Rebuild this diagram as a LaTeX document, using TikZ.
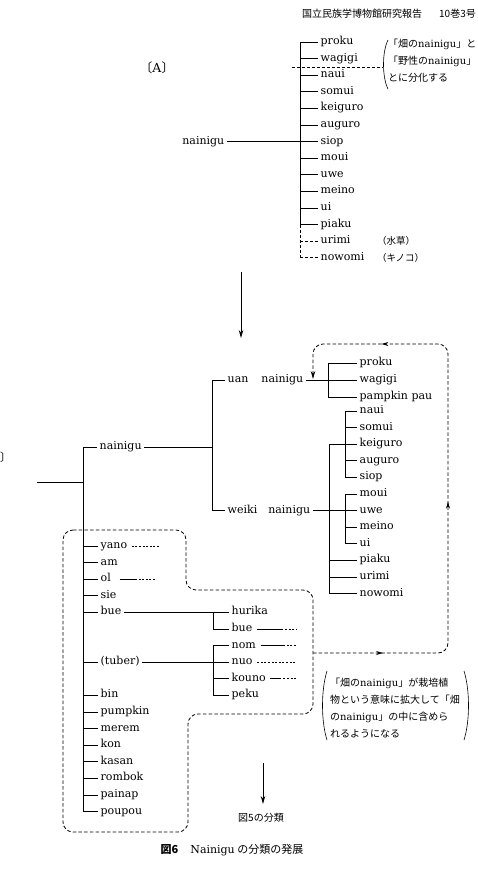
\documentclass[tikz,border=0pt]{standalone}
\usepackage{fontspec}
\setmainfont{DejaVu Serif}
\newfontfamily\jpf{Noto Sans CJK JP}
\usetikzlibrary{decorations.markings, arrows.meta}

\newcommand\trsz{\fontsize{11}{13}\selectfont}
\newcommand\romw[1]{{\rmfamily #1}}

\begin{document}
\begin{tikzpicture}[
      x=1pt, y=-1pt,
      every node/.style={font=\trsz, inner sep=0pt},
      leaf/.style={anchor=west, inner xsep=2.5pt, text height=7pt, text depth=2pt},
      word/.style={inner xsep=2.5pt, text height=7pt, text depth=2pt},
      jpten/.style={font=\jpf\fontsize{10}{12}\selectfont},
      jpnote/.style={font=\jpf\fontsize{10}{17}\selectfont, align=left},
      jpbox/.style={font=\jpf\fontsize{10}{17.3}\selectfont, align=left},
      branch/.style={line width=0.9pt},
      dashline/.style={line width=0.7pt, dash pattern=on 3pt off 2pt},
      dotline/.style={line width=0.8pt, dash pattern=on 2pt off 1.6pt},
      dashbox/.style={line width=0.8pt, dash pattern=on 3.5pt off 2.2pt, rounded corners=10pt},
      arrow/.style={-{Stealth[length=8pt, width=4.5pt]}, line width=0.8pt},
    ]
    \useasboundingbox (0,0) rectangle (477,876);

    % Running header
    \node[jpten, anchor=west] (hdr) at (302,14) {国立民族学博物館研究報告};
    \node[jpten, anchor=east] (vol) at (476,14) {10巻3号};

    % (A) first classification
    \node[font=\jpf\fontsize{12.5}{14}\selectfont] (labA) at (157,68) {〔\romw{A}〕};
    \node[word, anchor=east] (nainA) at (227,141.6) {nainigu};
    \coordinate (spineA) at (300,0);
    \node[leaf] (prokuA)   at (318,42.0)  {proku};
    \node[leaf] (wagigiA)  at (318,58.6)  {wagigi};
    \node[leaf] (nauiA)    at (318,75.2)  {naui};
    \node[leaf] (somuiA)   at (318,91.8)  {somui};
    \node[leaf] (keiguroA) at (318,108.4) {keiguro};
    \node[leaf] (auguroA)  at (318,125.0) {auguro};
    \node[leaf] (siopA)    at (318,141.6) {siop};
    \node[leaf] (mouiA)    at (318,158.2) {moui};
    \node[leaf] (uweA)     at (318,174.8) {uwe};
    \node[leaf] (meinoA)   at (318,191.4) {meino};
    \node[leaf] (uiA)      at (318,208.0) {ui};
    \node[leaf] (piakuA)   at (318,224.6) {piaku};
    \node[leaf] (urimiA)   at (318,241.2) {urimi};
    \node[leaf] (nowomiA)  at (318,257.8) {nowomi};
    \node[font=\jpf\fontsize{9.5}{10}\selectfont, anchor=west] (mizuA) at (377,241.2) {（水草）};
    \node[font=\jpf\fontsize{9.5}{10}\selectfont, anchor=west] (kinoA) at (377,257.8) {（キノコ）};

    \draw[branch] (nainA.east) -- (spineA |- nainA.east);
    \draw[branch] (spineA |- prokuA.west) -- (spineA |- piakuA.west);
    \foreach \n in {prokuA,wagigiA,nauiA,somuiA,keiguroA,auguroA,siopA,mouiA,uweA,meinoA,uiA,piakuA}
      \draw[branch] (spineA |- \n.west) -- (\n.west);
    \draw[dashline] (spineA |- piakuA.west) -- (spineA |- nowomiA.west);
    \draw[dashline] (spineA |- urimiA.west) -- (urimiA.west);
    \draw[dashline] (spineA |- nowomiA.west) -- (nowomiA.west);

    % split line and its note
    \coordinate (sepL) at (292,67.5);
    \coordinate (sepR) at (383,67.5);
    \draw[dashline] (sepL) -- (sepR);
    \draw[line width=0.6pt] (388,40) .. controls (382,52) and (382,77) .. (388,89);
    \node[jpnote, anchor=west] (noteA) at (388,61)
      {「畑の\romw{nainigu}」と\\「野性の\romw{nainigu}」\\とに分化する};

    % A -> B
    \coordinate (arrA) at (241,272);
    \coordinate (arrB) at (241,338);
    \draw[arrow] (arrA) -- (arrB);

    % (B) developed classification
    \node[font=\jpf\fontsize{11}{13}\selectfont, anchor=west] (labB) at (0,457) {〕};
    \coordinate (rootB)  at (37,482);
    \coordinate (spineB) at (83,0);
    \coordinate (spineC) at (212,0);
    \node[leaf] (nainB)  at (97,447)    {nainigu};
    \node[leaf] (uanN)   at (225,380)   {uan\hspace{13pt}nainigu};
    \node[leaf] (weikiN) at (225,510.6) {weiki\hspace{11pt}nainigu};

    \draw[branch] (rootB) -- (spineB |- rootB);
    \draw[branch] (spineB |- nainB.west) -- (nainB.west);
    \draw[branch] (nainB.east) -- (spineC |- nainB.east);
    \draw[branch] (spineC |- uanN.west) -- (spineC |- weikiN.west);
    \draw[branch] (spineC |- uanN.west) -- (uanN.west);
    \draw[branch] (spineC |- weikiN.west) -- (weikiN.west);

    % uan nainigu
    \coordinate (spineU) at (328,0);
    \node[leaf] (prokuB)   at (357,363) {proku};
    \node[leaf] (wagigiB)  at (357,380) {wagigi};
    \node[leaf] (pampkinB) at (357,397) {pampkin pau};
    \draw[branch] (uanN.east) -- (wagigiB.west);
    \draw[branch] (spineU |- prokuB.west) -- (spineU |- pampkinB.west);
    \draw[branch] (spineU |- prokuB.west) -- (prokuB.west);
    \draw[branch] (spineU |- pampkinB.west) -- (pampkinB.west);

    % weiki nainigu
    \coordinate (spineW) at (329,0);
    \coordinate (spineS) at (345,0);
    \node[leaf] (nauiB)    at (357,411.0) {naui};
    \node[leaf] (somuiB)   at (357,427.6) {somui};
    \node[leaf] (keiguroB) at (357,444.2) {keiguro};
    \node[leaf] (auguroB)  at (357,460.8) {auguro};
    \node[leaf] (siopB)    at (357,477.4) {siop};
    \node[leaf] (mouiB)    at (357,494.0) {moui};
    \node[leaf] (uweB)     at (357,510.6) {uwe};
    \node[leaf] (meinoB)   at (357,527.2) {meino};
    \node[leaf] (uiB)      at (357,543.8) {ui};
    \node[leaf] (piakuB)   at (357,560.4) {piaku};
    \node[leaf] (urimiB)   at (357,577.0) {urimi};
    \node[leaf] (nowomiB)  at (357,593.6) {nowomi};
    \draw[branch] (weikiN.east) -- (uweB.west);
    \draw[branch] (spineW |- keiguroB.west) -- (spineW |- nowomiB.west);
    \draw[branch] (spineS |- nauiB.west) -- (spineS |- siopB.west);
    \draw[branch] (spineS |- mouiB.west) -- (spineS |- uiB.west);
    \foreach \n in {nauiB,somuiB,auguroB,siopB,mouiB,meinoB,uiB}
      \draw[branch] (spineS |- \n.west) -- (\n.west);
    \foreach \n in {keiguroB,piakuB,urimiB,nowomiB}
      \draw[branch] (spineW |- \n.west) -- (\n.west);

    % remaining nainigu
    \node[leaf] (yanoL)    at (98,546.0) {yano};
    \node[leaf] (amL)      at (98,562.6) {am};
    \node[leaf] (olL)      at (98,579.2) {ol};
    \node[leaf] (sieL)     at (98,595.8) {sie};
    \node[leaf] (bueL)     at (98,612.4) {bue};
    \node[leaf] (tuberL)   at (98,662.2) {(tuber)};
    \node[leaf] (binL)     at (98,695.4) {bin};
    \node[leaf] (pumpkinL) at (98,712.0) {pumpkin};
    \node[leaf] (meremL)   at (98,728.6) {merem};
    \node[leaf] (konL)     at (98,745.2) {kon};
    \node[leaf] (kasanL)   at (98,761.8) {kasan};
    \node[leaf] (rombokL)  at (98,778.4) {rombok};
    \node[leaf] (painapL)  at (98,795.0) {painap};
    \node[leaf] (poupouL)  at (98,811.6) {poupou};
    \draw[branch] (spineB |- nainB.west) -- (spineB |- poupouL.west);
    \foreach \n in {yanoL,amL,olL,sieL,bueL,tuberL,binL,pumpkinL,meremL,konL,kasanL,rombokL,painapL,poupouL}
      \draw[branch] (spineB |- \n.west) -- (\n.west);

    % bue and tuber
    \coordinate (spineH) at (213,0);
    \coordinate (tailE)  at (296,0);
    \node[leaf] (hurikaS) at (229,612.4) {hurika};
    \node[leaf] (bueS)    at (229,629.0) {bue};
    \node[leaf] (nomS)    at (229,645.6) {nom};
    \node[leaf] (nuoS)    at (229,662.2) {nuo};
    \node[leaf] (kounoS)  at (229,678.8) {kouno};
    \node[leaf] (pekuS)   at (229,695.4) {peku};
    \draw[branch] (bueL.east) -- (hurikaS.west);
    \draw[branch] (spineH |- hurikaS.west) -- (spineH |- bueS.west);
    \draw[branch] (spineH |- bueS.west) -- (bueS.west);
    \draw[branch] (tuberL.east) -- (nuoS.west);
    \draw[branch] (spineH |- nomS.west) -- (spineH |- pekuS.west);
    \foreach \n in {nomS,kounoS,pekuS}
      \draw[branch] (spineH |- \n.west) -- (\n.west);

    % unfinished branches
    \draw[dotline] ([xshift=2pt]yanoL.east) -- ++(28,0);
    \draw[branch] ([xshift=6pt]olL.east) -- ++(17,0);
    \draw[dotline] ([xshift=25pt]olL.east) -- ++(16,0);
    \draw[branch] ([xshift=2pt]bueS.east) -- ++(26,0);
    \draw[dotline] ([xshift=30pt]bueS.east) -- (tailE |- bueS.east);
    \draw[branch] ([xshift=2pt]nomS.east) -- ++(24,0);
    \draw[dotline] ([xshift=28pt]nomS.east) -- (tailE |- nomS.east);
    \draw[dotline] ([xshift=2pt]nuoS.east) -- (tailE |- nuoS.east);
    \draw[branch] ([xshift=2pt]kounoS.east) -- ++(11,0);
    \draw[dotline] ([xshift=15pt]kounoS.east) -- (tailE |- kounoS.east);

    % cultivated group box
    \draw[dashbox] (63,530) -- (186,530) -- (186,590) -- (313,590) -- (313,714)
      -- (188,714) -- (188,832) -- (63,832) -- cycle;

    % moved into the field nainigu
    \coordinate (loopS) at (313,653);
    \coordinate (loopE) at (313,379);
    \draw[dashbox, arrow, postaction={decorate}, decoration={markings,
        mark=at position 70pt with {\arrow[solid]{Stealth[length=7pt, width=4pt]}},
        mark=at position 282pt with {\arrow[solid]{Stealth[length=7pt, width=4pt]}},
        mark=at position 502pt with {\arrow[solid]{Stealth[length=7pt, width=4pt]}}}]
      (loopS) -- (448,653) -- (448,344) -- (313,344) -- (loopE);

    \draw[line width=0.6pt] (327,671) .. controls (321,690) and (321,721) .. (327,740);
    \draw[line width=0.6pt] (464,671) .. controls (470,690) and (470,721) .. (464,740);
    \node[jpbox, anchor=west] (noteB) at (330,708)
      {「畑の\romw{nainigu}」が栽培植\\物という意味に拡大して「畑\\の\romw{nainigu}」の中に含めら\\れるようになる};

    % toward fig. 5
    \coordinate (arrC) at (263,763);
    \coordinate (arrD) at (263,804);
    \draw[arrow] (arrC) -- (arrD);
    \node[jpten] (fig5) at (261,818) {図5の分類};

    % caption
    \node[font=\jpf\fontsize{11}{13}\selectfont] (cap) at (232,850)
      {{\bfseries 図6}\hspace{12pt}\romw{Nainigu} の分類の発展};
  \end{tikzpicture}
\end{document}
